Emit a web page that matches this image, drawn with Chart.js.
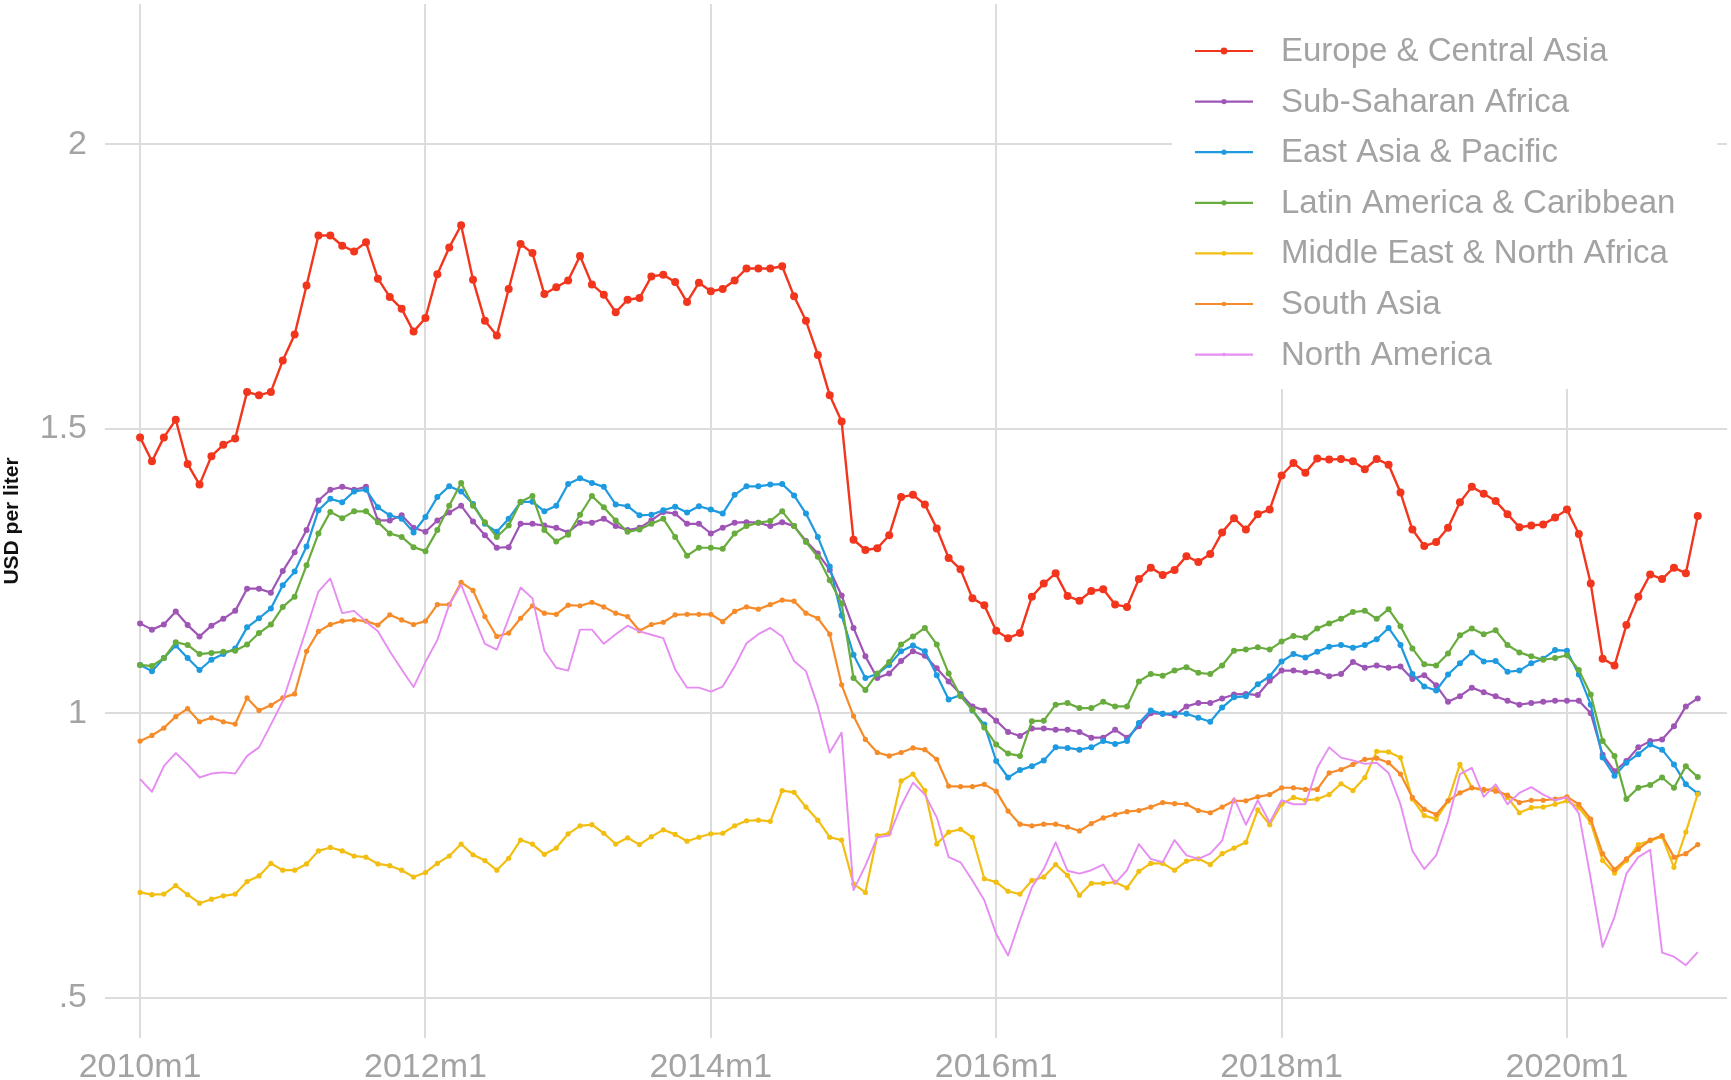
<!DOCTYPE html>
<html><head><meta charset="utf-8">
<script src="https://cdn.jsdelivr.net/npm/chart.js@4.4.0/dist/chart.umd.min.js"></script>
<style>
html,body{margin:0;padding:0;background:#fff;overflow:hidden;width:1731px;height:1080px}
#wrap{position:absolute;left:0;top:0;width:1731px;height:1100px}
</style></head>
<body><div id="wrap"><canvas id="c" width="1731" height="1100"></canvas></div>
<script>
// monthly categories 2010m1 .. 2020m12
const months = [];
for (let y = 2010; y <= 2020; y++) for (let m = 1; m <= 12; m++) months.push(y + 'm' + m);
const xTickLabels = ['2010m1','2012m1','2014m1','2016m1','2018m1','2020m1'];
const yTickValues = [0.5, 1, 1.5, 2];
const yTickLabels = ['.5', '1', '1.5', '2'];
const seriesNames = ['Europe & Central Asia','Sub-Saharan Africa','East Asia & Pacific','Latin America & Caribbean','Middle East & North Africa','South Asia','North America'];

const europeCentralAsia = [
1.485,1.443,1.485,1.516,1.438,1.402,1.452,1.472,1.483,1.565,1.559,1.565,
1.620,1.666,1.752,1.840,1.840,1.822,1.812,1.828,1.764,1.732,1.711,1.671,
1.695,1.772,1.819,1.858,1.762,1.690,1.664,1.746,1.825,1.809,1.737,1.749,
1.761,1.804,1.754,1.736,1.705,1.727,1.730,1.768,1.771,1.758,1.723,1.757,
1.742,1.746,1.761,1.782,1.782,1.782,1.786,1.733,1.690,1.630,1.559,1.513,
1.305,1.287,1.290,1.313,1.380,1.384,1.367,1.325,1.273,1.253,1.202,1.190,
1.145,1.132,1.141,1.205,1.228,1.246,1.206,1.198,1.215,1.218,1.191,1.187,
1.236,1.256,1.243,1.252,1.276,1.266,1.280,1.318,1.343,1.323,1.350,1.358,
1.418,1.440,1.423,1.448,1.446,1.447,1.443,1.429,1.447,1.437,1.388,1.323,
1.294,1.301,1.326,1.371,1.398,1.386,1.373,1.350,1.327,1.330,1.332,1.344,
1.358,1.315,1.228,1.096,1.084,1.155,1.205,1.244,1.236,1.256,1.246,1.347];

const subSaharanAfrica = [
1.158,1.147,1.156,1.179,1.155,1.135,1.154,1.166,1.180,1.219,1.219,1.212,
1.250,1.283,1.322,1.374,1.393,1.398,1.393,1.398,1.339,1.339,1.348,1.326,
1.319,1.339,1.353,1.365,1.337,1.313,1.291,1.292,1.333,1.333,1.330,1.326,
1.318,1.335,1.335,1.342,1.329,1.322,1.326,1.339,1.354,1.351,1.333,1.333,
1.316,1.326,1.335,1.336,1.335,1.329,1.336,1.329,1.303,1.281,1.252,1.207,
1.150,1.100,1.062,1.070,1.092,1.109,1.101,1.079,1.056,1.034,1.012,1.005,
0.987,0.967,0.960,0.973,0.973,0.971,0.971,0.967,0.957,0.957,0.971,0.957,
0.977,1.000,0.999,0.996,1.012,1.018,1.018,1.026,1.033,1.034,1.032,1.057,
1.075,1.075,1.072,1.073,1.065,1.069,1.090,1.080,1.084,1.080,1.082,1.060,
1.067,1.049,1.020,1.030,1.045,1.037,1.030,1.022,1.015,1.018,1.020,1.022,
1.022,1.022,1.000,0.927,0.898,0.916,0.940,0.951,0.954,0.977,1.012,1.026];

const eastAsiaPacific = [
1.085,1.074,1.097,1.119,1.097,1.076,1.094,1.104,1.114,1.151,1.167,1.184,
1.225,1.249,1.293,1.357,1.377,1.371,1.390,1.393,1.362,1.348,1.342,1.318,
1.345,1.380,1.399,1.390,1.368,1.333,1.319,1.342,1.371,1.372,1.355,1.365,
1.403,1.413,1.405,1.398,1.367,1.364,1.348,1.349,1.357,1.363,1.353,1.364,
1.358,1.351,1.384,1.399,1.399,1.402,1.403,1.383,1.351,1.310,1.258,1.172,
1.103,1.062,1.069,1.085,1.109,1.119,1.109,1.067,1.024,1.032,1.005,0.980,
0.916,0.887,0.900,0.907,0.917,0.940,0.939,0.936,0.940,0.951,0.946,0.951,
0.983,1.005,0.999,1.000,0.999,0.992,0.985,1.010,1.028,1.030,1.051,1.065,
1.091,1.104,1.098,1.108,1.117,1.120,1.115,1.120,1.130,1.150,1.120,1.069,
1.047,1.040,1.068,1.088,1.107,1.091,1.092,1.073,1.075,1.088,1.096,1.111,
1.110,1.068,1.015,0.922,0.890,0.913,0.928,0.945,0.936,0.910,0.875,0.859];

const latinAmericaCaribbean = [
1.085,1.083,1.097,1.125,1.120,1.104,1.106,1.108,1.110,1.121,1.141,1.156,
1.187,1.205,1.260,1.316,1.354,1.343,1.355,1.355,1.336,1.316,1.310,1.292,
1.285,1.322,1.365,1.405,1.365,1.336,1.310,1.330,1.372,1.382,1.322,1.302,
1.314,1.349,1.382,1.362,1.339,1.319,1.323,1.333,1.342,1.310,1.277,1.291,
1.291,1.289,1.316,1.329,1.335,1.338,1.355,1.329,1.301,1.275,1.234,1.193,
1.062,1.041,1.070,1.090,1.121,1.135,1.150,1.121,1.070,1.030,1.006,0.975,
0.945,0.929,0.925,0.986,0.987,1.015,1.018,1.009,1.009,1.020,1.012,1.012,
1.056,1.069,1.066,1.075,1.081,1.071,1.069,1.084,1.110,1.112,1.116,1.112,
1.126,1.136,1.133,1.149,1.158,1.166,1.178,1.180,1.166,1.183,1.153,1.114,
1.086,1.084,1.105,1.137,1.149,1.139,1.146,1.120,1.107,1.100,1.094,1.097,
1.102,1.076,1.033,0.951,0.925,0.849,0.869,0.874,0.887,0.869,0.907,0.888];

const middleEastNorthAfrica = [
0.685,0.681,0.682,0.697,0.681,0.666,0.673,0.679,0.682,0.704,0.714,0.736,
0.724,0.724,0.735,0.758,0.764,0.758,0.749,0.747,0.735,0.732,0.724,0.712,
0.720,0.736,0.749,0.770,0.751,0.741,0.724,0.745,0.777,0.770,0.752,0.763,
0.788,0.802,0.804,0.789,0.770,0.781,0.769,0.783,0.795,0.787,0.775,0.782,
0.788,0.789,0.802,0.811,0.812,0.810,0.864,0.861,0.835,0.812,0.782,0.777,
0.700,0.685,0.785,0.789,0.881,0.893,0.864,0.770,0.791,0.796,0.782,0.709,
0.703,0.687,0.682,0.706,0.712,0.734,0.715,0.680,0.701,0.701,0.703,0.693,
0.722,0.736,0.736,0.724,0.740,0.744,0.734,0.753,0.763,0.773,0.830,0.804,
0.840,0.852,0.847,0.849,0.857,0.876,0.864,0.887,0.933,0.932,0.922,0.849,
0.820,0.814,0.846,0.910,0.869,0.864,0.869,0.852,0.825,0.834,0.835,0.840,
0.846,0.834,0.808,0.741,0.719,0.741,0.769,0.776,0.783,0.729,0.791,0.858];

const southAsia = [
0.951,0.961,0.974,0.994,1.008,0.985,0.992,0.985,0.981,1.027,1.005,1.014,
1.027,1.034,1.109,1.144,1.156,1.162,1.164,1.162,1.155,1.173,1.164,1.156,
1.162,1.191,1.191,1.230,1.216,1.170,1.135,1.141,1.167,1.189,1.176,1.174,
1.190,1.189,1.195,1.187,1.176,1.170,1.145,1.156,1.160,1.173,1.174,1.174,
1.174,1.161,1.179,1.187,1.183,1.191,1.199,1.197,1.176,1.167,1.139,1.050,
0.995,0.954,0.931,0.925,0.931,0.939,0.936,0.919,0.872,0.871,0.871,0.875,
0.863,0.828,0.805,0.802,0.805,0.805,0.800,0.793,0.806,0.816,0.822,0.827,
0.829,0.835,0.843,0.841,0.840,0.829,0.825,0.835,0.846,0.846,0.853,0.857,
0.869,0.869,0.866,0.866,0.895,0.901,0.910,0.919,0.921,0.913,0.893,0.852,
0.831,0.822,0.846,0.860,0.869,0.866,0.863,0.856,0.843,0.847,0.847,0.849,
0.853,0.840,0.814,0.753,0.725,0.744,0.761,0.777,0.785,0.747,0.753,0.769];

const northAmerica = [
0.884,0.862,0.907,0.930,0.910,0.887,0.894,0.896,0.894,0.925,0.940,0.980,
1.021,1.085,1.149,1.214,1.237,1.176,1.180,1.161,1.144,1.109,1.077,1.046,
1.090,1.129,1.191,1.226,1.173,1.122,1.112,1.167,1.221,1.202,1.110,1.080,
1.075,1.147,1.147,1.122,1.139,1.154,1.144,1.138,1.132,1.077,1.045,1.045,
1.038,1.047,1.082,1.123,1.139,1.150,1.135,1.092,1.074,1.012,0.931,0.966,
0.689,0.732,0.782,0.785,0.837,0.878,0.857,0.817,0.747,0.738,0.706,0.671,
0.612,0.574,0.636,0.694,0.726,0.773,0.723,0.718,0.724,0.734,0.701,0.724,
0.770,0.744,0.738,0.777,0.750,0.744,0.753,0.776,0.851,0.804,0.847,0.808,
0.847,0.840,0.840,0.904,0.940,0.922,0.917,0.911,0.913,0.895,0.840,0.758,
0.726,0.750,0.811,0.893,0.904,0.853,0.875,0.840,0.860,0.870,0.857,0.847,
0.852,0.824,0.709,0.589,0.642,0.718,0.747,0.760,0.579,0.572,0.557,0.580];

const seriesValues = [europeCentralAsia, subSaharanAfrica, eastAsiaPacific, latinAmericaCaribbean, middleEastNorthAfrica, southAsia, northAmerica];
const seriesColors = ['#F2361E','#9E55B5','#1D9AE0','#68AC3E','#F2BE12','#F68B2A','#E68DF2'];
const pointRadii = [4, 3, 3, 3, 2.6, 2.6, 0];
const lineWidths = [2.4, 2.2, 2.2, 2.2, 2.2, 2.2, 1.9];
const legendRadii = [3.4, 2.6, 2.6, 2.6, 2.3, 2.3, 1.8];

const TICK_GREY = '#a3a3a3';
const GRID = '#dcdcdc';

const datasets = seriesValues.map((vals, i) => ({
  label: seriesNames[i],
  data: vals.map((v, k) => ({ x: k, y: v })),
  borderColor: seriesColors[i],
  backgroundColor: seriesColors[i],
  pointBackgroundColor: seriesColors[i],
  pointBorderWidth: 0,
  pointRadius: pointRadii[i],
  borderWidth: lineWidths[i],
  tension: 0,
  fill: false,
  order: seriesValues.length - i
}));

const legendBox = {
  id: 'legendBox',
  afterDraw(chart) {
    const ctx = chart.ctx;
    ctx.save();
    ctx.fillStyle = '#ffffff';
    ctx.fillRect(1172, 0, 545, 389);
    ctx.font = '33px "Liberation Sans", Arial, sans-serif';
    ctx.textBaseline = 'middle';
    ctx.textAlign = 'left';
    seriesNames.forEach((name, i) => {
      const y = 51 + i * 50.6;
      ctx.strokeStyle = seriesColors[i];
      ctx.lineWidth = 2.2;
      ctx.beginPath(); ctx.moveTo(1195, y); ctx.lineTo(1253, y); ctx.stroke();
      ctx.fillStyle = seriesColors[i];
      ctx.beginPath(); ctx.arc(1224, y, legendRadii[i], 0, Math.PI * 2); ctx.fill();
      ctx.fillStyle = TICK_GREY;
      ctx.fillText(name, 1281, y + 1);
    });
    ctx.restore();
  }
};

new Chart(document.getElementById('c'), {
  type: 'line',
  data: { datasets },
  plugins: [legendBox],
  options: {
    responsive: false,
    animation: false,
    devicePixelRatio: 1,
    layout: { padding: 0 },
    plugins: { legend: { display: false }, tooltip: { enabled: false } },
    elements: { line: { borderJoinStyle: 'round' } },
    scales: {
      x: {
        type: 'linear',
        min: -2.95,
        max: 133.46,
        border: { display: false },
        grid: { color: GRID, lineWidth: 2, drawTicks: false },
        afterBuildTicks(s) { s.ticks = xTickLabels.map(l => ({ value: months.indexOf(l) })); },
        ticks: {
          padding: 9,
          color: TICK_GREY,
          font: { size: 34, family: '"Liberation Sans", Arial, sans-serif' },
          maxRotation: 0,
          autoSkip: false,
          callback: (v) => months[v]
        },
        afterFit(s) { s.height = 62; s.paddingLeft = 0; s.paddingRight = 0; }
      },
      y: {
        type: 'linear',
        min: 0.429,
        max: 2.247,
        border: { display: false },
        grid: { color: GRID, lineWidth: 2, drawTicks: false },
        afterBuildTicks(s) { s.ticks = yTickValues.map(v => ({ value: v })); },
        ticks: {
          padding: 18,
          color: TICK_GREY,
          font: { size: 34, family: '"Liberation Sans", Arial, sans-serif' },
          callback: (v) => yTickLabels[yTickValues.indexOf(v)]
        },
        title: {
          display: true,
          text: 'USD per liter',
          color: '#111111',
          padding: { top: 0, bottom: 0 },
          font: { size: 21, weight: 'bold', family: '"Liberation Sans", Arial, sans-serif' }
        },
        afterFit(s) { s.width = 105; s.paddingTop = 0; s.paddingBottom = 0; }
      }
    }
  }
});
</script>
</body></html>
